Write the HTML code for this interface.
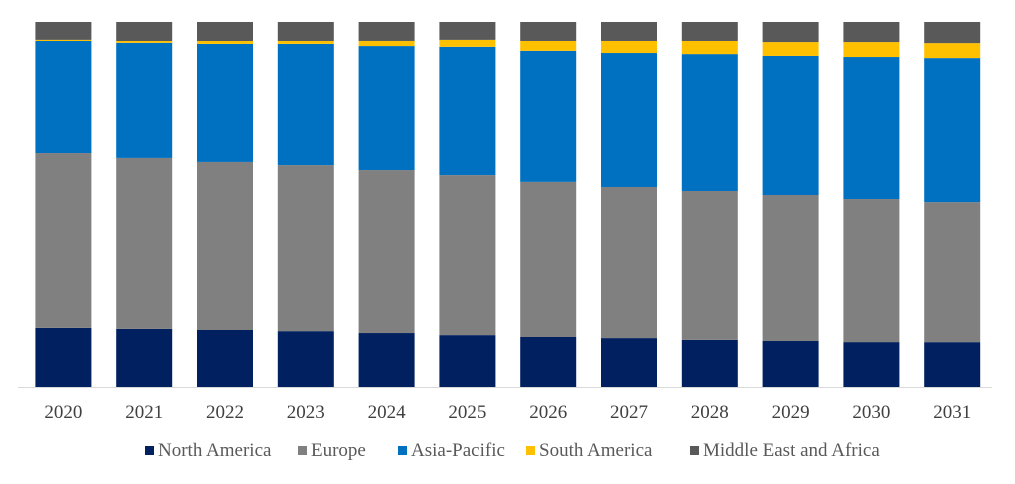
<!DOCTYPE html>
<html><head><meta charset="utf-8"><style>
body{margin:0;background:#fff;width:1015px;height:479px;overflow:hidden}
svg text{font-family:"Liberation Serif",serif;font-size:19px;fill:#404040}
svg text.leg{font-size:19px;fill:#595959}
</style></head><body>
<svg id="chart" width="1015" height="479" xmlns="http://www.w3.org/2000/svg"></svg>
<script>
const years=["2020","2021","2022","2023","2024","2025","2026","2027","2028","2029","2030","2031"];
const northAmerica=[16.2,15.9,15.6,15.3,14.8,14.2,13.7,13.4,12.9,12.6,12.3,12.3];
const europe=[47.9,46.8,46.0,45.5,44.7,43.8,42.5,41.4,40.8,40.0,39.2,38.4];
const asiaPacific=[30.7,31.5,32.3,33.2,34.0,35.1,35.9,36.7,37.5,38.1,38.9,39.5];
const southAmerica=[0.3,0.5,0.8,0.8,1.4,1.9,2.7,3.3,3.6,3.8,4.1,4.1];
const middleEastAfrica=[4.9,5.2,5.2,5.2,5.2,4.9,5.2,5.2,5.2,5.5,5.5,5.8];
const seriesNames=["North America","Europe","Asia-Pacific","South America","Middle East and Africa"];
const colors=["#002060","#808080","#0070C0","#FFC000","#595959"];
const series=[northAmerica,europe,asiaPacific,southAmerica,middleEastAfrica];
const svg=document.getElementById('chart');
const NS="http://www.w3.org/2000/svg";
const top0=22,bottom0=387,left0=23,step=80.8,barW=56;
const xc=i=>left0+step*i+step/2;
const y=v=>bottom0-(bottom0-top0)*v;
function mk(t,a){const e=document.createElementNS(NS,t);for(const k in a)e.setAttribute(k,a[k]);svg.appendChild(e);return e;}
years.forEach((yr,i)=>{
  let tot=0;series.forEach(s=>tot+=s[i]);
  let cum=0;
  series.forEach((s,j)=>{
    const y0=y(cum/tot),y1=y((cum+s[i])/tot);cum+=s[i];
    const r=mk('rect',{x:xc(i)-barW/2,y:y1,width:barW,height:Math.max(0,y0-y1),fill:colors[j]});
    
    
  });
  const t=mk('text',{x:xc(i),y:418,'text-anchor':'middle'});t.textContent=yr;
  
  
});
const ax=mk('line',{x1:18,x2:992,y1:387.5,y2:387.5,stroke:'#d9d9d9','stroke-width':1});


const lx=[145,298,398,526,690];
seriesNames.forEach((n,j)=>{
  const g=document.createElementNS(NS,'g');svg.appendChild(g);
  
  
  const r=document.createElementNS(NS,'rect');
  r.setAttribute('x',lx[j]);r.setAttribute('y',446);r.setAttribute('width',9);r.setAttribute('height',9);r.setAttribute('fill',colors[j]);
  g.appendChild(r);
  const t=document.createElementNS(NS,'text');
  t.setAttribute('class','leg');
  t.setAttribute('x',lx[j]+13);t.setAttribute('y',456);t.textContent=n;
  g.appendChild(t);
});
</script>
</body></html>
